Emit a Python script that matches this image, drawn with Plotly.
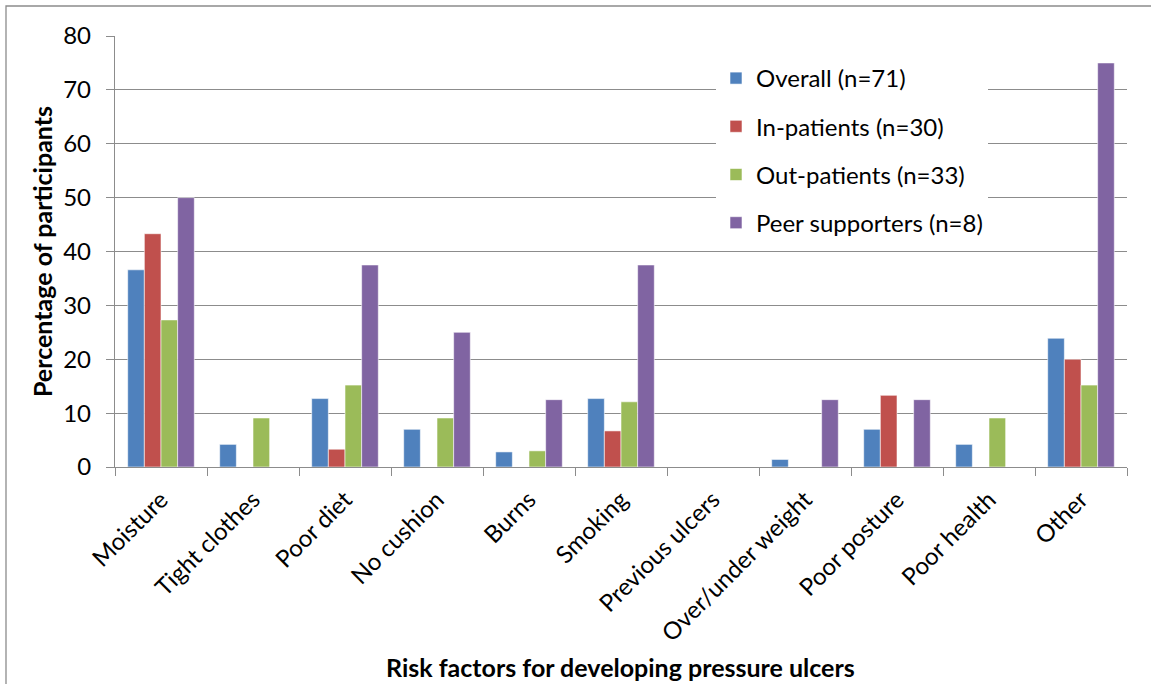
import plotly.graph_objects as go

categories = ["Moisture", "Tight clothes", "Poor diet", "No cushion", "Burns", "Smoking",
              "Previous ulcers", "Over/under weight", "Poor posture", "Poor health", "Other"]

overall = [36.6, 4.2, 12.7, 7.0, 2.8, 12.7, 0, 1.4, 7.0, 4.2, 23.9]
in_patients = [43.3, 0, 3.3, 0, 0, 6.7, 0, 0, 13.3, 0, 20.0]
out_patients = [27.3, 9.1, 15.2, 9.1, 3.0, 12.1, 0, 0, 0, 9.1, 15.2]
peer_supporters = [50.0, 0, 37.5, 25.0, 12.5, 37.5, 0, 12.5, 12.5, 0, 75.0]

series_names = ["Overall (n=71)", "In-patients (n=30)", "Out-patients (n=33)", "Peer supporters (n=8)"]
series_values = [overall, in_patients, out_patients, peer_supporters]
series_colors = ["#4F81BD", "#C0504D", "#9BBB59", "#8064A2"]

FONT = "Lato, 'Open Sans', sans-serif"
GRID = "#8c8c8c"

# plot-area geometry in pixels (used for the frame and title placement)
W, H = 1151, 684
ML, MR, MT, MB = 115, 24, 36, 217
PW, PH = W - ML - MR, H - MT - MB

fig = go.Figure()
for i, (name, vals, col) in enumerate(zip(series_names, series_values, series_colors)):
    fig.add_trace(go.Bar(
        x=categories, y=vals, name=name, legendgroup=f"g{i}",
        marker=dict(color=col, line=dict(color="rgba(255,255,255,0.7)", width=0.8)),
    ))

fig.update_layout(
    width=W, height=H,
    margin=dict(l=ML, r=MR, t=MT, b=MB),
    paper_bgcolor="white", plot_bgcolor="white",
    barmode="group", bargap=0.276, bargroupgap=0,
    font=dict(family=FONT, size=24, color="black"),
    legend=dict(
        x=(716 - ML) / PW, y=1 - (56 - MT) / PH, xanchor="left", yanchor="top",
        bgcolor="white", borderwidth=0,
        font=dict(size=24), tracegroupgap=14,
        traceorder="grouped",
    ),
    showlegend=True,
)

fig.update_yaxes(
    range=[0, 80], dtick=10, tick0=0,
    showgrid=True, gridcolor=GRID, gridwidth=1.3,
    showline=True, linecolor=GRID, linewidth=1.3,
    ticks="outside", ticklen=8, tickcolor=GRID, tickwidth=1.3,
    ticklabelstandoff=10,
    tickfont=dict(size=24),
    zeroline=False,
    title=dict(text="<b>Percentage of participants</b>", font=dict(size=25), standoff=3),
)
fig.update_xaxes(
    showline=True, linecolor=GRID, linewidth=1.3,
    ticks="outside", ticklen=8, tickcolor=GRID, tickwidth=1.3,
    tickson="boundaries", tickangle=-45,
    ticklabelstandoff=8,
    tickfont=dict(size=24),
)

# x-axis title placed under the rotated category labels
fig.add_annotation(
    text="<b>Risk factors for developing pressure ulcers</b>",
    xref="paper", yref="paper", x=(620 - ML) / PW, y=-(667 - (MT + PH)) / PH,
    xanchor="center", yanchor="middle", showarrow=False,
    font=dict(size=25, family=FONT, color="black"),
)

# Outer chart frame
fig.add_shape(type="rect", xref="paper", yref="paper",
              x0=(6 - ML) / PW, x1=(W + 20 - ML) / PW,
              y0=-(H + 20 - MT - PH) / PH, y1=1 + (MT - 6) / PH,
              line=dict(color=GRID, width=1.3), fillcolor="rgba(0,0,0,0)", layer="below")

fig.write_html("out.html")
